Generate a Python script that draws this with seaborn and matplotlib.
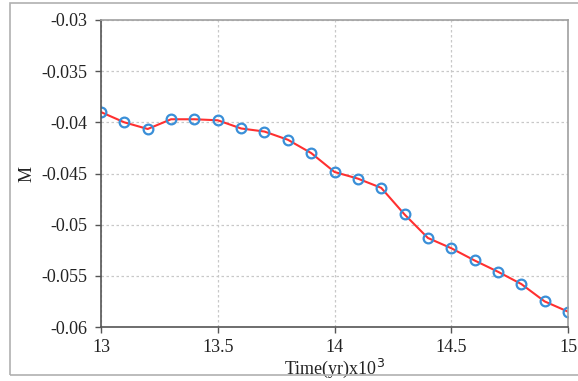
import matplotlib
matplotlib.use("Agg")
import matplotlib.pyplot as plt
import seaborn as sns
import pandas as pd
from matplotlib.patches import Rectangle

time = [13.0, 13.1, 13.2, 13.3, 13.4, 13.5, 13.6, 13.7, 13.8, 13.9, 14.0,
        14.1, 14.2, 14.3, 14.4, 14.5, 14.6, 14.7, 14.8, 14.9, 15.0]
m_values = [-0.0390, -0.0400, -0.04065, -0.0397, -0.0397, -0.0398, -0.0406,
            -0.0409, -0.0417, -0.0430, -0.04485, -0.0455, -0.0464, -0.0490,
            -0.0513, -0.0523, -0.0535, -0.0546, -0.0558, -0.0575, -0.0585]
x_ticks = [13, 13.5, 14, 14.5, 15]
x_tick_labels = ["13", "13.5", "14", "14.5", "15"]
y_ticks = [-0.03, -0.035, -0.04, -0.045, -0.05, -0.055, -0.06]
y_tick_labels = ["-0.03", "-0.035", "-0.04", "-0.045", "-0.05", "-0.055", "-0.06"]

sns.set_theme(style="white")
plt.rcParams['font.family'] = ['Liberation Serif', 'DejaVu Serif']

df = pd.DataFrame({"Time": time, "M": m_values})

fig = plt.figure(figsize=(5.78, 3.81), dpi=100)
fig.patches.append(Rectangle((10/578, 6/381), 1.0, 372/381, transform=fig.transFigure,
                             fill=False, edgecolor="#b0b0b0", linewidth=1.2))
ax = fig.add_axes([101/578, 54/381, 467/578, 307/381])

sns.lineplot(data=df, x="Time", y="M", ax=ax, color="#ff3030", linewidth=1.5,
             marker="o", markersize=7, markerfacecolor="none",
             markeredgecolor="#3a8fd8", markeredgewidth=1.6)

ax.set_xlim(13, 15)
ax.set_ylim(-0.06, -0.03)
ax.set_xticks(x_ticks)
ax.set_xticklabels(x_tick_labels)
ax.set_yticks(y_ticks)
ax.set_yticklabels(y_tick_labels)
ax.grid(True, color="#c8c8c8", linestyle=(0, (2, 2)), linewidth=0.9)
ax.tick_params(axis="both", which="major", direction="out", length=4, width=1,
               color="#555555", labelsize=13, labelcolor="#222222",
               left=True, bottom=True)
ax.tick_params(axis="y", pad=6)
ax.tick_params(axis="x", pad=5)
for side in ["left", "bottom"]:
    ax.spines[side].set_color("#555555")
    ax.spines[side].set_linewidth(1.2)
for side in ["top", "right"]:
    ax.spines[side].set_color("#a0a0a0")
    ax.spines[side].set_linewidth(1.2)

ax.set_xlabel("Time(yr)x10$^3$", fontsize=13, color="#222222", labelpad=0)
ax.set_ylabel("M", fontsize=13, color="#222222", labelpad=4)

fig.savefig("out.png", dpi=100)
